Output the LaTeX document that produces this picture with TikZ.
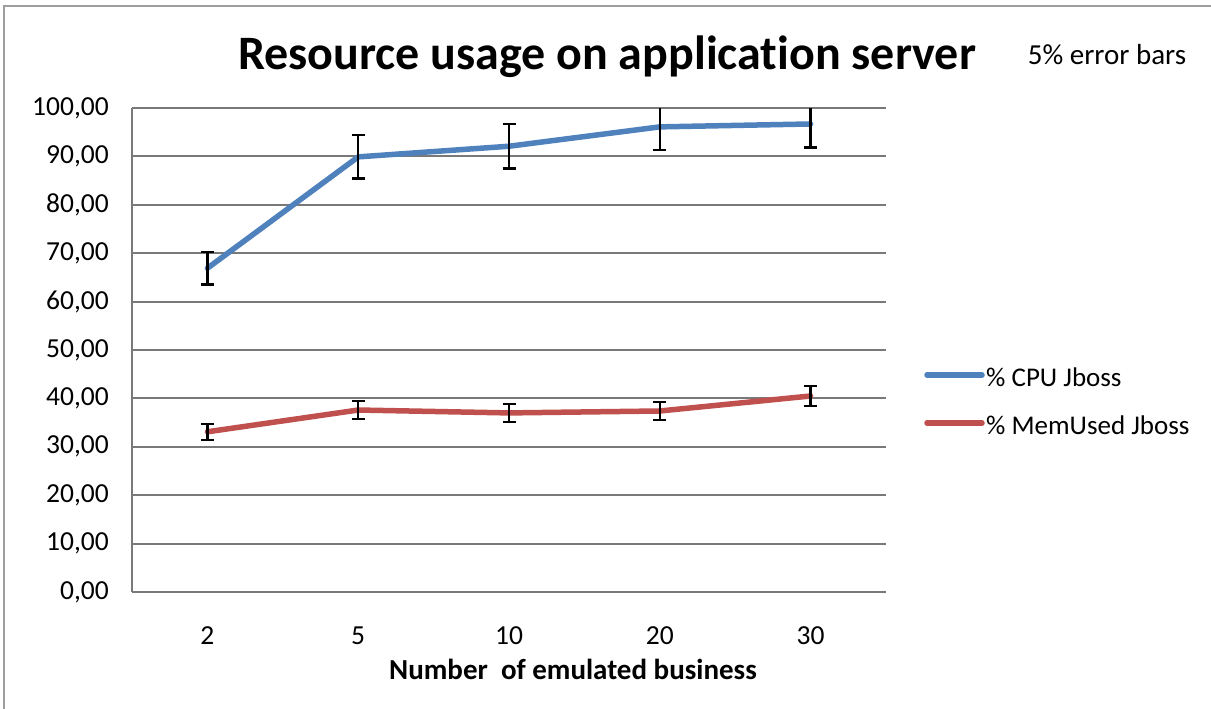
\documentclass[tikz,border=0pt]{standalone}
\usepackage{fontspec}
\setmainfont{Carlito}[Ligatures={NoCommon}]
\begin{document}
\begin{tikzpicture}[x=1pt,y=-1pt,
  grid/.style={draw=gray!95!black, line width=2pt},
  frame/.style={draw=black!38, line width=2pt},
  series/.style={line width=5.5pt, line join=round, line cap=round},
  errbar/.style={draw=black, line width=2.4pt},
  ticklbl/.style={font=\fontsize{27.5}{31}\selectfont, inner sep=0pt},
  lgdlbl/.style={font=\fontsize{27}{31}\selectfont, inner sep=0pt, anchor=west}]
\definecolor{cpublue}{RGB}{79,129,189}
\definecolor{memred}{RGB}{192,80,77}
\useasboundingbox (0,0) rectangle (1211,709);
% outer chart frame (left and top edges)
\draw[frame] (4,709) -- (4,6) -- (1211,6);

% horizontal gridlines and value labels
\foreach \v [count=\i from 0] in {0,10,...,100}{
  \pgfmathsetmacro{\yy}{592-4.84*\v}
  \draw[grid] (132,\yy) -- (886,\yy);
  \node[ticklbl, anchor=east] (y\i) at (109,\yy) {\v,00};
}
% value axis line
\draw[grid] (132,108) -- (132,592);

% category labels
\foreach \c [count=\i] in {2,5,10,20,30}{
  \node[ticklbl] (x\i) at ({132+75.4*(2*\i-1)},636) {\c};
}

% data coordinates
\foreach \v [count=\i] in {66.9,89.9,92.1,96.1,96.7}{
  \coordinate (c\i) at ({132+75.4*(2*\i-1)},{592-4.84*\v});
  \coordinate (cl\i) at ({132+75.4*(2*\i-1)},{592-4.84*\v*0.95});
  \coordinate (ch\i) at ({132+75.4*(2*\i-1)},{592-4.84*\v*1.05});
}
\foreach \v [count=\i] in {33.1,37.6,37.0,37.4,40.5}{
  \coordinate (m\i) at ({132+75.4*(2*\i-1)},{592-4.84*\v});
  \coordinate (ml\i) at ({132+75.4*(2*\i-1)},{592-4.84*\v*0.95});
  \coordinate (mh\i) at ({132+75.4*(2*\i-1)},{592-4.84*\v*1.05});
}

% series lines
\draw[series, cpublue] (c1) -- (c2) -- (c3) -- (c4) -- (c5);
\draw[series, memred] (m1) -- (m2) -- (m3) -- (m4) -- (m5);

% 5% error bars, clipped to the plot area
\begin{scope}
\clip (120,108) rectangle (900,600);
\foreach \s in {c,m}{
  \foreach \i in {1,...,5}{
    \draw[errbar] (\s l\i) -- (\s h\i);
    \draw[errbar] ([xshift=-6.5pt]\s l\i) -- ([xshift=6.5pt]\s l\i);
    \draw[errbar] ([xshift=-6.5pt]\s h\i) -- ([xshift=6.5pt]\s h\i);
  }
}
\end{scope}

% titles
\node[font=\fontsize{48}{52}\selectfont\bfseries, inner sep=0pt] (title) at (607,57) {Resource usage on application server};
\node[font=\fontsize{29}{33}\selectfont, inner sep=0pt] (note) at (1107,55) {5\% error bars};
\node[font=\fontsize{29}{33}\selectfont\bfseries, inner sep=0pt] (xtitle) at (573,669) {Number\ \ of emulated business};

% legend
\coordinate (lb1) at (927,375);
\coordinate (lb2) at (982,375);
\coordinate (lr1) at (927,423);
\coordinate (lr2) at (982,423);
\draw[series, cpublue] (lb1) -- (lb2);
\draw[series, memred] (lr1) -- (lr2);
\node[lgdlbl] (lgcpu) at (986,377) {\% CPU Jboss};
\node[lgdlbl] (lgmem) at (986,425) {\% MemUsed Jboss};
\end{tikzpicture}
\end{document}
